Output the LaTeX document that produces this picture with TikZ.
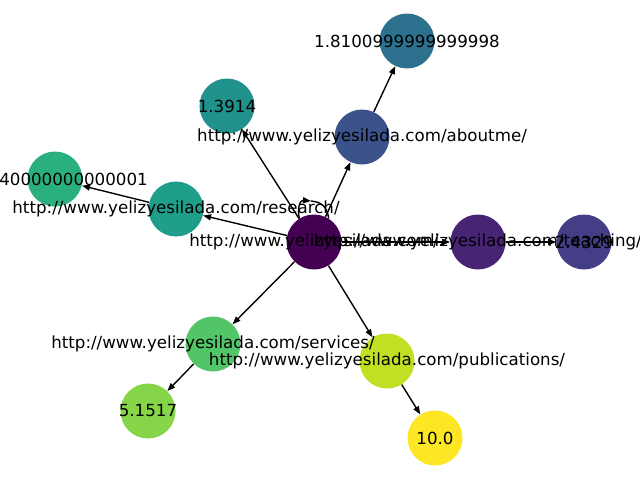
\documentclass[tikz,border=0pt]{standalone}
\usepackage{fontspec}
\setmainfont{DejaVu Sans}
\usetikzlibrary{arrows.meta}
\definecolor{vHome}{HTML}{440154}
\definecolor{vTeach}{HTML}{482475}
\definecolor{vTeachS}{HTML}{433E85}
\definecolor{vAbout}{HTML}{3B528B}
\definecolor{vAboutS}{HTML}{2C728E}
\definecolor{vHomeS}{HTML}{21918C}
\definecolor{vResearch}{HTML}{1F9E89}
\definecolor{vResearchS}{HTML}{2AB07F}
\definecolor{vServices}{HTML}{52C569}
\definecolor{vServicesS}{HTML}{86D549}
\definecolor{vPub}{HTML}{C2DF23}
\definecolor{vPubS}{HTML}{FDE725}

\begin{document}
\begin{tikzpicture}[x=0.72pt,y=-0.72pt,
  page/.style={circle, minimum size=39.6pt, inner sep=0pt},
  link/.style={-{Triangle[length=5.8pt,width=4.3pt]}, line width=1pt},
  tag/.style={font=\fontsize{12pt}{14pt}\selectfont, inner sep=0pt}]
\useasboundingbox (0,0) rectangle (640,480);

% pages
\node[page, fill=vHome] (home) at (314,242) {};
\node[page, fill=vTeach] (teaching) at (478,242) {};
\node[page, fill=vTeachS] (teachScore) at (584,242) {};
\node[page, fill=vAbout] (aboutme) at (362,137) {};
\node[page, fill=vAboutS] (aboutScore) at (407,41) {};
\node[page, fill=vHomeS] (homeScore) at (227,106) {};
\node[page, fill=vResearch] (research) at (176,209) {};
\node[page, fill=vResearchS] (researchScore) at (55,179) {};
\node[page, fill=vServices] (services) at (213,344) {};
\node[page, fill=vServicesS] (servicesScore) at (148,411) {};
\node[page, fill=vPub] (publications) at (387,361) {};
\node[page, fill=vPubS] (pubScore) at (435,438) {};

% links
\draw[link] (home) -- (teaching);
\draw[link] (teaching) -- (teachScore);
\draw[link] (home) -- (aboutme);
\draw[link] (aboutme) -- (aboutScore);
\draw[link] (home) -- (homeScore);
\draw[link] (home) -- (research);
\draw[link] (research) -- (researchScore);
\draw[link] (home) -- (services);
\draw[link] (services) -- (servicesScore);
\draw[link] (home) -- (publications);
\draw[link] (publications) -- (pubScore);

% self loop
\coordinate (loopTop) at (311,201);
\draw[link] (home.122) .. controls (297,208) and (300,200) .. (loopTop);
\draw[line width=1pt] (loopTop) .. controls (321,202) and (327,206) .. (home.58);

% labels
\node[tag] at (home) {http://www.yelizyesilada.com/};
\node[tag] at (teaching) {http://www.yelizyesilada.com/teaching/};
\node[tag] at (teachScore) {2.4329};
\node[tag] at (aboutme) {http://www.yelizyesilada.com/aboutme/};
\node[tag] at (aboutScore) {1.8100999999999998};
\node[tag] at (homeScore) {1.3914};
\node[tag] at (research) {http://www.yelizyesilada.com/research/};
\node[tag] at (researchScore) {0.9440000000000001};
\node[tag] at (services) {http://www.yelizyesilada.com/services/};
\node[tag] at (servicesScore) {5.1517};
\node[tag] at (publications) {http://www.yelizyesilada.com/publications/};
\node[tag] at (pubScore) {10.0};
\end{tikzpicture}
\end{document}
